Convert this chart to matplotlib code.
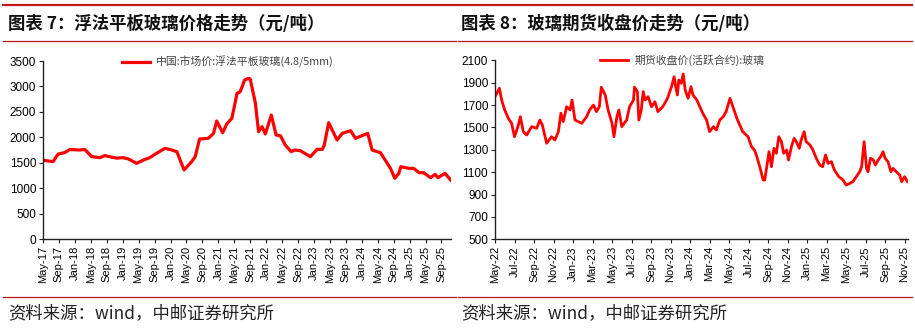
import matplotlib
matplotlib.use('Agg')
import matplotlib.pyplot as plt
from matplotlib.lines import Line2D

plt.rcParams['font.family'] = ['Noto Sans CJK SC', 'DejaVu Sans']

# ---------------- 图表7：浮法平板玻璃价格（月份数, 自2017-05起） ----------------
t_float = [0, 2.5, 3.8, 5.5, 6.7, 9.2, 10.5, 12.2, 14.3, 15.5, 17.2, 18.5, 20, 21.4,
           23.5, 25.2, 26.8, 28.5, 30.6, 32.3, 33.6, 35.4, 37.3, 38.2, 39.3, 41.5,
           42.8, 43.6, 45.1, 46.1, 47.4, 48.7, 49.5, 50.6, 51.6, 52.0, 53.3, 54.1,
           55.0, 55.8, 57.3, 58.5, 59.6, 60.8, 62.3, 63.1, 64.6, 67.1, 68.8, 70.1,
           70.6, 71.7, 73.8, 75.1, 77.2, 78.4, 80.5, 81.5, 82.6, 84.7, 86.4, 87.2,
           88.3, 89.3, 89.8, 91.8, 93.0, 94.4, 95.5, 97.3, 98.4, 99.1, 100.9, 102.3]
v_float = [1550, 1520, 1670, 1700, 1760, 1750, 1760, 1620, 1600, 1640, 1610, 1590, 1600, 1575,
           1488, 1553, 1600, 1685, 1783, 1750, 1716, 1357, 1520, 1618, 1966, 1980,
           2077, 2320, 2090, 2260, 2373, 2865, 2896, 3126, 3159, 3146, 2674, 2110,
           2208, 2064, 2438, 2045, 2030, 1848, 1716, 1750, 1736, 1618, 1763, 1763,
           1848, 2287, 1946, 2077, 2130, 1979, 2045, 2077, 1750, 1697, 1488, 1389,
           1193, 1291, 1422, 1389, 1389, 1304, 1304, 1206, 1272, 1206, 1291, 1160]
ticks_float = ['May-17', 'Sep-17', 'Jan-18', 'May-18', 'Sep-18', 'Jan-19', 'May-19', 'Sep-19',
               'Jan-20', 'May-20', 'Sep-20', 'Jan-21', 'May-21', 'Sep-21', 'Jan-22', 'May-22',
               'Sep-22', 'Jan-23', 'May-23', 'Sep-23', 'Jan-24', 'May-24', 'Sep-24', 'Jan-25',
               'May-25', 'Sep-25']

# ---------------- 图表8：玻璃期货收盘价（月份数, 自2022-05起） ----------------
t_fut = [0, 0.45, 0.68, 1.0, 1.36, 1.7, 2.0, 2.4, 2.6, 2.9, 3.25, 3.76, 4.27, 4.6, 4.85,
         5.3, 5.8, 6.15, 6.5, 6.76, 7.0, 7.35, 7.7, 7.9, 8.2, 8.9, 9.4, 9.7, 10.1, 10.4,
         10.7, 10.9, 11.3, 11.6, 12.0, 12.2, 12.5, 12.7, 13.0, 13.5, 13.8, 14.2, 14.3,
         14.6, 14.75, 15.0, 15.2, 15.4, 15.7, 16.05, 16.4, 16.7, 17.2, 17.6, 17.75, 18.1,
         18.37, 18.5, 18.7, 18.85, 19.1, 19.3, 19.5, 19.8, 20.1, 20.3, 20.7, 21.0, 21.3,
         21.7, 22.0, 22.4, 22.7, 23.05, 23.4, 23.7, 24.1, 24.4, 24.8, 25.1, 25.4, 25.95,
         26.3, 26.6, 26.8, 27.15, 27.5, 27.66, 28.1, 28.35, 28.6, 28.85, 29.1, 29.37,
         29.6, 29.9, 30.1, 30.4, 30.67, 30.9, 31.2, 31.4, 31.7, 31.9, 32.3, 32.6, 32.95,
         33.3, 33.6, 33.9, 34.15, 34.5, 34.8, 35.25, 35.7, 36.0, 36.4, 36.7, 37.05, 37.4,
         37.6, 37.85, 38.1, 38.25, 38.5, 38.8, 39.0, 39.3, 39.55, 39.8, 40.0, 40.3, 40.6,
         40.8, 41.15, 41.5, 41.7, 42.0, 42.3]
v_fut = [1775, 1850, 1745, 1656, 1582, 1537, 1417, 1522, 1596, 1462, 1432, 1507, 1492, 1566, 1522,
         1358, 1417, 1388, 1462, 1627, 1552, 1685, 1656, 1745, 1566, 1537, 1596, 1656, 1700, 1641,
         1685, 1859, 1790, 1656, 1537, 1417, 1596, 1656, 1507, 1566, 1685, 1745, 1859,
         1820, 1566, 1656, 1820, 1745, 1775, 1685, 1730, 1641, 1685, 1745, 1775, 1864,
         1953, 1879, 1790, 1924, 1894, 1978, 1835, 1760, 1864, 1790, 1745, 1685, 1627,
         1566, 1462, 1507, 1477, 1566, 1596, 1641, 1760, 1685, 1582, 1522, 1462, 1417,
         1328, 1298, 1254, 1149, 1030, 1030, 1283, 1149, 1313, 1269, 1417, 1373,
         1269, 1298, 1209, 1328, 1403, 1373, 1313, 1388, 1462, 1373, 1343, 1298, 1224,
         1164, 1149, 1254, 1179, 1194, 1120, 1060, 1030, 985, 1000, 1015, 1060, 1104,
         1149, 1373, 1134, 1104, 1224, 1209, 1164, 1209, 1239, 1283, 1224, 1194, 1104,
         1134, 1104, 1075, 1015, 1060, 1015]
ticks_fut = ['May-22', 'Jul-22', 'Sep-22', 'Nov-22', 'Jan-23', 'Mar-23', 'May-23', 'Jul-23',
             'Sep-23', 'Nov-23', 'Jan-24', 'Mar-24', 'May-24', 'Jul-24', 'Sep-24', 'Nov-24',
             'Jan-25', 'Mar-25', 'May-25', 'Jul-25', 'Sep-25', 'Nov-25']

W, H = 915, 329
fig = plt.figure(figsize=(W / 100, H / 100), dpi=100)


def fx(px):
    return px / W


def fy(py):
    return 1 - py / H


def frame(x0, x1, title, title_x):
    # 顶部红线、标题、分隔线、来源
    fig.add_artist(Line2D([fx(x0), fx(x1)], [fy(5), fy(5)], color='#C8161D', lw=1.6))
    fig.text(fx(title_x), fy(24), title, fontsize=12.5, fontweight='bold', va='center',
             color='#111111')
    fig.add_artist(Line2D([fx(x0), fx(x1)], [fy(41), fy(41)], color='#B01818', lw=0.9))
    fig.add_artist(Line2D([fx(x0), fx(x1)], [fy(297), fy(297)], color='#B01818', lw=0.9))
    fig.text(fx(title_x), fy(313), '资料来源：wind，中邮证券研究所', fontsize=12.5,
             va='center', color='#222222')


def setup(ax, t, v, ticks, step, xmax, ylim, ystep, label, lw):
    ax.plot(t, v, color='#FF0000', lw=lw, label=label, solid_joinstyle='round')
    ax.set_xlim(0, xmax)
    ax.set_ylim(*ylim)
    ax.set_yticks(range(ylim[0], ylim[1] + 1, ystep))
    ax.set_xticks([i * step for i in range(len(ticks))])
    ax.set_xticklabels(ticks, rotation=90, fontsize=8, family='Liberation Sans')
    for lab in ax.get_yticklabels():
        lab.set_family('Liberation Sans')
        lab.set_fontsize(8.5)
    ax.spines['top'].set_visible(False)
    ax.spines['right'].set_visible(False)
    for s in ('left', 'bottom'):
        ax.spines[s].set_color('#222222')
        ax.spines[s].set_linewidth(1.0)
    ax.tick_params(direction='out', length=3, width=0.8, color='#222222', pad=2)
    leg = ax.legend(loc='upper center', bbox_to_anchor=(0.453, 1.085), frameon=False,
                    fontsize=7.8, handlelength=2.6, handletextpad=0.6)
    for txt in leg.get_texts():
        txt.set_color('#444444')


frame(3, 456, '图表 7：浮法平板玻璃价格走势（元/吨）', 8)
frame(458, 912, '图表 8：玻璃期货收盘价走势（元/吨）', 461)

ax1 = fig.add_axes([fx(43), fy(239), fx(451 - 43), (239 - 61) / H])
setup(ax1, t_float, v_float, ticks_float, 4, 102.4, (0, 3500), 500,
      '中国:市场价:浮法平板玻璃(4.8/5mm)', 2.3)

ax2 = fig.add_axes([fx(495), fy(239.3), fx(907.5 - 495), (239.3 - 60.3) / H])
setup(ax2, t_fut, v_fut, ticks_fut, 2, 42.3, (500, 2100), 200,
      '期货收盘价(活跃合约):玻璃', 2.0)

fig.savefig('out.png', dpi=100)
